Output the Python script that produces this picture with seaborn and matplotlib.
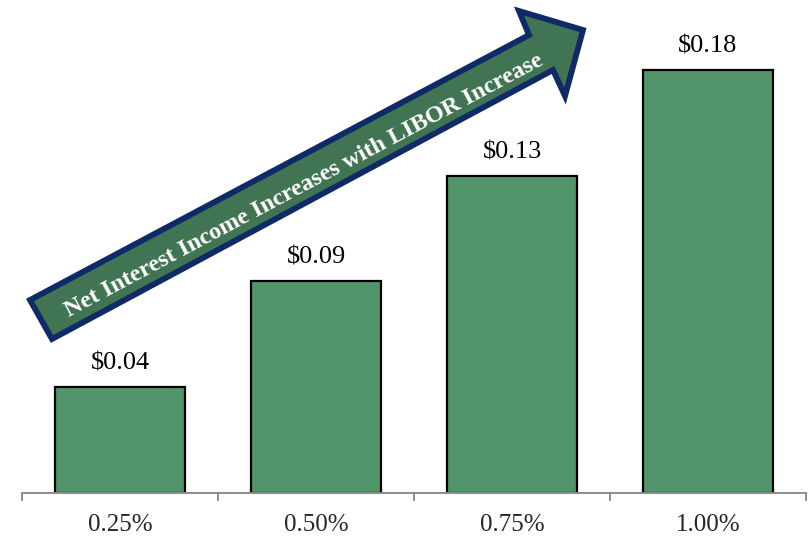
import matplotlib
matplotlib.use("Agg")
import matplotlib.pyplot as plt
import seaborn as sns
import numpy as np
from matplotlib.patches import Polygon
from matplotlib.transforms import Affine2D

# LIBOR increase scenarios and the resulting net interest income per share
libor_increase = ["0.25%", "0.50%", "0.75%", "1.00%"]
nii_per_share = [0.044, 0.088, 0.132, 0.176]

W, H = 808, 540
sns.set_theme(style="white")
plt.rcParams["font.family"] = ["Liberation Serif", "DejaVu Serif"]

fig = plt.figure(figsize=(W / 100, H / 100), dpi=100)
ax = fig.add_axes([22 / W, (H - 493) / H, (806 - 22) / W, 493 / H])

sns.barplot(x=libor_increase, y=nii_per_share, color="#52956A", saturation=1,
            edgecolor="black", linewidth=1.6, width=0.66, ax=ax)

ax.bar_label(ax.containers[0], labels=[f"${v:.2f}" for v in nii_per_share],
             padding=9, fontsize=19, color="black")

ax.set_xlim(-0.5, len(libor_increase) - 0.5)
ax.set_ylim(0, 0.205)
ax.set_ylabel("")
ax.set_yticks([])

# boundary ticks between categories, labels at the bar centres
ax.set_xticks(np.arange(len(libor_increase) + 1) - 0.5)
ax.set_xticklabels([])
ax.tick_params(axis="x", which="major", direction="out", length=6, width=1.4,
               color="#8C8C8C", bottom=True)
ax.set_xticks(np.arange(len(libor_increase)), minor=True)
ax.set_xticklabels(libor_increase, minor=True, fontsize=18)
ax.tick_params(axis="x", which="minor", length=0, pad=15)

for side in ["top", "right", "left"]:
    ax.spines[side].set_visible(False)
ax.spines["bottom"].set_color("#8C8C8C")
ax.spines["bottom"].set_linewidth(1.4)

# rising arrow annotation, laid out in pixel space (y downward)
px = Affine2D().scale(1 / W, -1 / H).translate(0, 1) + fig.transFigure
arrow_pts = [(30, 300), (529, 35), (519, 11), (583, 30),
             (565, 96), (553, 70), (52, 339)]
fig.patches.append(Polygon(arrow_pts, closed=True, transform=px,
                           facecolor="#407452", edgecolor="#0F2A66",
                           linewidth=4.2, joinstyle="miter", zorder=5))
fig.text(304, 186, "Net Interest Income Increases with LIBOR Increase",
         transform=px, rotation=28, rotation_mode="anchor",
         ha="center", va="center", color="white", fontsize=17.5,
         fontweight="bold", zorder=6)

fig.savefig("out.png", dpi=100)
